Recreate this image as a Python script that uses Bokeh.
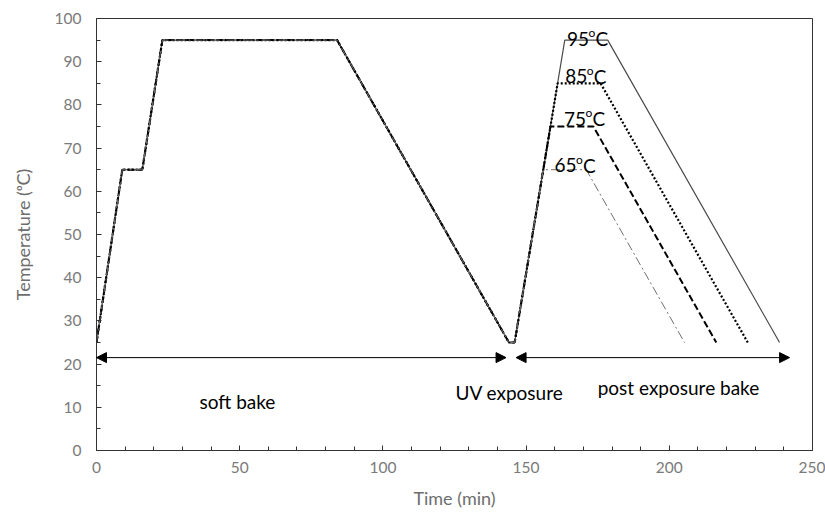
from bokeh.plotting import figure
from bokeh.models import Range1d, SingleIntervalTicker, Arrow, NormalHead, ColumnDataSource
from bokeh.embed import file_html
from bokeh.resources import INLINE
from bokeh.core.properties import value

# Shared thermal profile: soft bake (65 -> 95 °C), cool down, UV exposure
soft_time = [0, 9, 16, 23, 84, 144, 146]
soft_temp = [25, 65, 65, 95, 95, 25, 25]

# Post exposure bake for each set point (ramp, 15 min hold, cool down)
peb65_time = [156, 171, 205.3]
peb65_temp = [65, 65, 25]
peb75_time = [156, 158.5, 173.5, 216.4]
peb75_temp = [65, 75, 75, 25]
peb85_time = [156, 161, 176, 227.4]
peb85_temp = [65, 85, 85, 25]
peb95_time = [156, 163.5, 178.5, 238.5]
peb95_temp = [65, 95, 95, 25]

setpoints = [65, 75, 85, 95]

# Process phases (time spans in minutes)
phase_names = ["soft bake", "UV exposure", "post exposure bake"]
soft_bake_span = [0, 143]
peb_span = [146.5, 242]

FONT = "Lato"

p = figure(width=825, height=514, output_backend="svg", toolbar_location=None,
           x_range=Range1d(0, 250), y_range=Range1d(0, 100),
           min_border_left=96, min_border_right=13, min_border_top=18,
           min_border_bottom=64)
p.background_fill_color = "white"
p.border_fill_color = "white"
p.outline_line_color = "#333333"
p.outline_line_width = 1
p.xgrid.visible = False
p.ygrid.visible = False

p.xaxis.ticker = SingleIntervalTicker(interval=50, num_minor_ticks=5)
p.yaxis.ticker = SingleIntervalTicker(interval=10, num_minor_ticks=2)
for ax in (p.xaxis[0], p.yaxis[0]):
    ax.axis_line_color = "#333333"
    ax.major_tick_line_color = "#333333"
    ax.minor_tick_line_color = "#333333"
    ax.major_tick_in = 5
    ax.major_tick_out = 0
    ax.minor_tick_in = 4
    ax.minor_tick_out = 0
    ax.major_label_text_font = FONT
    ax.major_label_text_font_size = "15.5px"
    ax.major_label_text_color = "#7a7a7a"
    ax.axis_label_text_font = FONT
    ax.axis_label_text_font_size = "18px"
    ax.axis_label_text_font_style = "normal"
    ax.axis_label_text_color = "#6e6e6e"

p.xaxis.axis_label = "Time (min)"
p.yaxis.axis_label = "Temperature (ᵒC)"
p.xaxis.major_label_standoff = 11
p.xaxis.axis_label_standoff = 11
p.yaxis.major_label_standoff = 15
p.yaxis.axis_label_standoff = 18

# Full profiles, one per set point
series = [
    (soft_time + peb95_time, soft_temp + peb95_temp, "#4a4a4a", 1.2, "solid"),
    (soft_time + peb85_time, soft_temp + peb85_temp, "black", 2.2, "2 2"),
    (soft_time + peb75_time, soft_temp + peb75_temp, "black", 2.0, "7 3"),
    (soft_time + peb65_time, soft_temp + peb65_temp, "#707070", 1.0, "9 3 2 3"),
]
for t, T, color, lw, dash in series:
    p.line(t, T, line_color=color, line_width=lw, line_dash=dash)

# Set point labels above each hold: number, raised small "o", then "C"
label_x = [159.9, 163.2, 163.7, 164.3]
label_dy = [1.0, 1.8, 1.6, 0.3]
lbl = ColumnDataSource(dict(
    x=label_x,
    y=[s + d for s, d in zip(setpoints, label_dy)],
    num=[str(s) for s in setpoints],
    deg=["o"] * len(setpoints),
    unit=["C"] * len(setpoints),
))
common = dict(x="x", y="y", source=lbl, text_font=value(FONT), text_color="black",
              text_align="left", text_baseline="alphabetic")
p.text(text="num", text_font_size="19px", **common)
p.text(text="deg", text_font_size="12px", x_offset=21.5, y_offset=-6, **common)
p.text(text="unit", text_font_size="19px", x_offset=28.5, **common)

# Phase arrows
arrow_y = 21.5
for span in (soft_bake_span, peb_span):
    p.add_layout(Arrow(
        start=NormalHead(size=10, fill_color="black", line_color="black", line_width=1),
        end=NormalHead(size=10, fill_color="black", line_color="black", line_width=1),
        x_start=span[0], y_start=arrow_y, x_end=span[1], y_end=arrow_y,
        line_color="black", line_width=1))

phase_src = ColumnDataSource(dict(
    x=[49.2, 144.2, 203.2],
    y=[11.3, 13.4, 14.6],
    text=phase_names,
))
p.text(x="x", y="y", text="text", source=phase_src, text_font=value(FONT),
       text_font_size="19px", text_color="black",
       text_align="center", text_baseline="alphabetic")

open("out.html", "w").write(file_html(p, INLINE))
